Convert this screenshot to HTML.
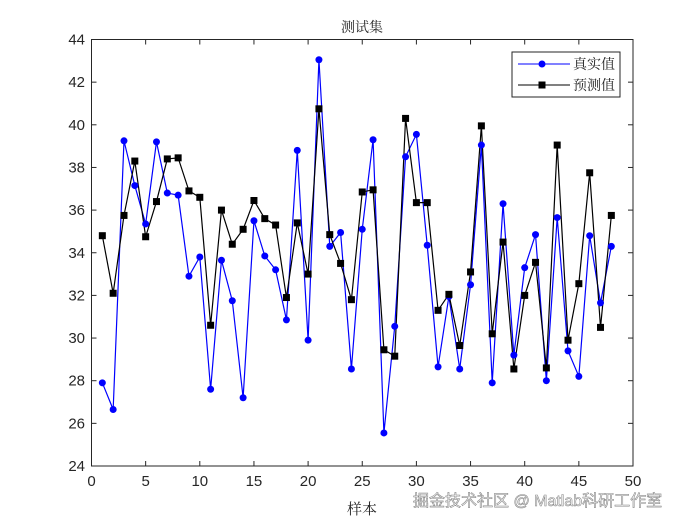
<!DOCTYPE html>
<html><head><meta charset="utf-8"><style>
html,body{margin:0;padding:0;background:#fff;}
svg{display:block;font-family:"Liberation Sans","Noto Sans CJK SC",sans-serif;}
</style></head><body>
<svg id="s" width="700" height="525" xmlns="http://www.w3.org/2000/svg">
<rect width="700" height="525" fill="#fff"/>
<g id="g"></g>
<rect x="91.5" y="39.5" width="541.5" height="426.5" fill="none" stroke="#262626" stroke-width="1"/>
<text x="362" y="32" font-size="14" text-anchor="middle" fill="#262626" font-family="'Noto Serif CJK SC',serif">测试集</text>
<text x="362" y="514" font-size="15" text-anchor="middle" fill="#262626" font-family="'Noto Serif CJK SC',serif">样本</text>
<g id="ticks" font-size="15" fill="#262626"></g>
<g>
<rect x="512" y="52" width="108" height="45" fill="#fff" stroke="#262626"/>
<line x1="518" y1="64" x2="570" y2="64" stroke="#0000ff"/>
<circle cx="542" cy="64" r="3.5" fill="#0000ff"/>
<line x1="518" y1="85" x2="570" y2="85" stroke="#000"/>
<rect x="538.5" y="81.5" width="7" height="7" fill="#000"/>
<text x="573" y="69" font-size="14" fill="#262626" font-family="'Noto Serif CJK SC',serif">真实值</text>
<text x="573" y="90" font-size="14" fill="#262626" font-family="'Noto Serif CJK SC',serif">预测值</text>
</g>
<text x="413" y="506" font-size="16" fill="#fff" stroke="#888" stroke-width="0.6" font-family="'Liberation Sans','Noto Sans CJK SC',sans-serif">掘金技术社区 @ Matlab科研工作室</text>
</svg>
<script>
var T=[27.9,26.65,39.25,37.15,35.35,39.2,36.8,36.7,32.9,33.8,27.6,33.65,31.75,27.2,35.5,33.85,33.2,30.85,38.8,29.9,43.05,34.3,34.95,28.55,35.1,39.3,25.55,30.55,38.5,39.55,34.35,28.65,31.95,28.55,32.5,39.05,27.9,36.3,29.2,33.3,34.85,28.0,35.65,29.4,28.2,34.8,31.65,34.3];
var P=[34.8,32.1,35.75,38.3,34.75,36.4,38.4,38.45,36.9,36.6,30.6,36.0,34.4,35.1,36.45,35.6,35.3,31.9,35.4,33.0,40.75,34.85,33.5,31.8,36.85,36.95,29.45,29.15,40.3,36.35,36.35,31.3,32.05,29.65,33.1,39.95,30.2,34.5,28.55,32.0,33.55,28.6,39.05,29.9,32.55,37.75,30.5,35.75];
function X(i){return 91.5+i*541.5/50}function Y(v){return 466-(v-24)*426.5/20}
var h='';
h+='<polyline fill="none" stroke="#0000ff" stroke-width="1.2" points="'+T.map((v,i)=>X(i+1)+','+Y(v)).join(' ')+'"/>';
h+='<polyline fill="none" stroke="#000" stroke-width="1.2" points="'+P.map((v,i)=>X(i+1)+','+Y(v)).join(' ')+'"/>';
T.forEach((v,i)=>h+='<circle cx="'+X(i+1)+'" cy="'+Y(v)+'" r="3.5" fill="#0000ff"/>');
P.forEach((v,i)=>h+='<rect x="'+(X(i+1)-3.5)+'" y="'+(Y(v)-3.5)+'" width="7" height="7" fill="#000"/>');
document.getElementById('g').innerHTML=h;
var t='';
for(var k=0;k<=10;k++){var x=X(k*5);t+='<line x1="'+x+'" y1="466" x2="'+x+'" y2="461" stroke="#262626"/><line x1="'+x+'" y1="39.5" x2="'+x+'" y2="44.5" stroke="#262626"/><text x="'+x+'" y="486" text-anchor="middle">'+(k*5)+'</text>';}
for(var v=24;v<=44;v+=2){var y=Y(v);t+='<line x1="91.5" y1="'+y+'" x2="96.5" y2="'+y+'" stroke="#262626"/><line x1="633" y1="'+y+'" x2="628" y2="'+y+'" stroke="#262626"/><text x="85" y="'+(y+5)+'" text-anchor="end">'+v+'</text>';}
document.getElementById('ticks').innerHTML=t;
</script>
</body></html>
